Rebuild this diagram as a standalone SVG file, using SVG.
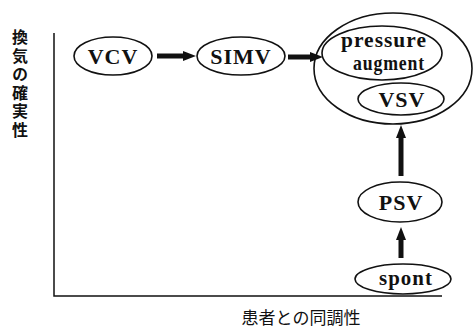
<svg xmlns="http://www.w3.org/2000/svg" width="473" height="328" viewBox="0 0 473 328">
<style>
.n{fill:none;stroke:#111;stroke-width:1.6}
.t{font-family:"Liberation Serif",serif;fill:#111;text-anchor:middle;font-weight:bold;letter-spacing:1px}
.ax{stroke:#111;stroke-width:1.5;fill:none}
.c{stroke:#111;stroke-width:5;fill:none}
.j{font-family:"Noto Sans CJK JP",sans-serif;fill:#111;font-size:16px}
</style>
<defs>
<marker id="ah" markerUnits="userSpaceOnUse" markerWidth="14" markerHeight="12" refX="0" refY="6" orient="auto">
<path d="M0,1 L13,6 L0,11 Z" fill="#111"/>
</marker>
</defs>
<rect width="473" height="328" fill="#fff"/>
<g id="axes">
<path class="ax" d="M54,33 V296 H442"/>
<text class="j" x="20" y="29" style="writing-mode:vertical-rl;letter-spacing:2.6px;font-weight:bold">換気の確実性</text>
<text class="j" x="301" y="324" text-anchor="middle" style="font-size:17px">患者との同調性</text>
</g>
<g id="connectors">
<line class="c" x1="157" y1="56" x2="183" y2="56" marker-end="url(#ah)"/>
<line class="c" x1="288" y1="57" x2="310" y2="57" marker-end="url(#ah)"/>
<line class="c" x1="401" y1="176" x2="401" y2="138" marker-end="url(#ah)"/>
<line class="c" x1="401" y1="258" x2="401" y2="240" marker-end="url(#ah)"/>
</g>
<g id="VCV">
<ellipse class="n" cx="113" cy="56" rx="39" ry="19"/>
<text class="t" x="113" y="64" font-size="22">VCV</text>
</g>
<g id="SIMV">
<ellipse class="n" cx="241" cy="56" rx="44" ry="19"/>
<text class="t" x="241" y="64" font-size="22">SIMV</text>
</g>
<g id="group">
<ellipse class="n" cx="393" cy="68.5" rx="79" ry="55.5"/>
</g>
<g id="pressure">
<ellipse class="n" cx="382" cy="53" rx="60" ry="27"/>
<text class="t" x="384" y="47" font-size="21" textLength="86" lengthAdjust="spacingAndGlyphs">pressure</text>
<text class="t" x="389" y="70" font-size="21" textLength="72" lengthAdjust="spacingAndGlyphs">augment</text>
</g>
<g id="VSV">
<ellipse class="n" cx="401" cy="99" rx="43" ry="16"/>
<text class="t" x="402" y="107" font-size="22">VSV</text>
</g>
<g id="PSV">
<ellipse class="n" cx="400" cy="202" rx="42" ry="20"/>
<text class="t" x="401" y="210" font-size="22">PSV</text>
</g>
<g id="spont">
<ellipse class="n" cx="403" cy="279" rx="48" ry="15"/>
<text class="t" x="406" y="285" font-size="20" textLength="54" lengthAdjust="spacingAndGlyphs">spont</text>
</g>
</svg>
